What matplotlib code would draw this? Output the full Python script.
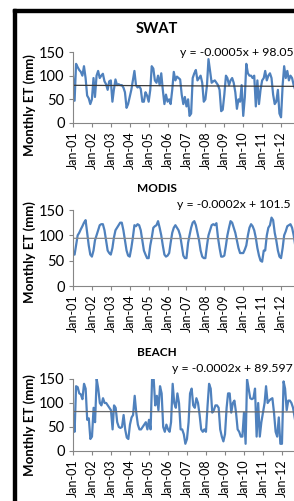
import numpy as np
import matplotlib.pyplot as plt
import matplotlib.dates as mdates
from matplotlib.patches import Rectangle

plt.rcParams['font.family'] = ['Lato', 'DejaVu Sans']

# monthly ET (mm), Jan 2001 - Dec 2012
swat = [100, 47, 125, 118, 112, 108, 100, 120, 95, 58, 52, 40,
        50, 95, 55, 100, 110, 95, 100, 104, 88, 82, 70, 88,
        90, 45, 70, 92, 80, 82, 80, 80, 75, 65, 32, 40,
        55, 70, 90, 110, 80, 75, 78, 72, 45, 45, 65, 58,
        45, 70, 120, 115, 90, 85, 100, 80, 105, 70, 40, 60,
        45, 50, 40, 70, 108, 90, 98, 95, 92, 60, 40, 55,
        35, 50, 15, 20, 95, 105, 112, 90, 95, 100, 85, 45,
        50, 80, 135, 110, 85, 88, 90, 85, 80, 70, 25, 28,
        60, 100, 95, 80, 90, 95, 85, 65, 30, 50, 45, 80,
        15, 55, 125, 105, 100, 100, 95, 100, 35, 90, 40, 70,
        90, 95, 110, 90, 100, 105, 95, 60, 40, 45, 70, 20,
        12, 80, 120, 95, 110, 90, 100, 95, 80, 70, 50, 45]
modis = [62, 62, 80, 100, 105, 112, 118, 125, 130, 105, 80, 62,
         58, 70, 90, 100, 110, 120, 122, 122, 110, 90, 70, 65,
         62, 75, 95, 110, 115, 120, 125, 125, 110, 90, 70, 60,
         58, 75, 95, 120, 118, 122, 120, 110, 90, 70, 62, 55,
         55, 80, 95, 115, 118, 120, 128, 115, 100, 80, 62, 58,
         60, 65, 85, 105, 115, 120, 115, 110, 100, 80, 60, 55,
         55, 85, 100, 115, 125, 128, 120, 105, 90, 70, 58, 55,
         55, 80, 100, 110, 120, 122, 120, 124, 95, 75, 58, 58,
         60, 80, 100, 115, 128, 125, 115, 105, 90, 75, 65, 65,
         65, 72, 80, 100, 115, 122, 118, 110, 95, 75, 60, 50,
         48, 70, 70, 100, 115, 120, 135, 130, 105, 90, 70, 58,
         55, 75, 100, 108, 118, 120, 122, 115, 100, 80, 65, 60]
beach = [75, 40, 135, 133, 120, 118, 108, 140, 130, 65, 68, 25,
         30, 90, 60, 150, 130, 100, 95, 110, 100, 100, 95, 90,
         85, 45, 95, 90, 60, 50, 48, 50, 75, 45, 28, 25,
         55, 70, 75, 115, 80, 55, 45, 45, 50, 55, 60, 45,
         65, 45, 150, 150, 95, 115, 85, 135, 120, 50, 40, 55,
         45, 40, 60, 140, 100, 90, 120, 100, 45, 45, 35, 15,
         25, 60, 120, 130, 95, 90, 110, 100, 75, 45, 40, 45,
         40, 95, 140, 130, 80, 85, 95, 95, 90, 45, 30, 20,
         35, 90, 120, 120, 80, 100, 105, 80, 45, 40, 30, 30,
         80, 15, 150, 130, 110, 108, 110, 130, 30, 100, 30, 60,
         80, 100, 135, 100, 105, 108, 110, 80, 40, 30, 70, 15,
         15, 145, 130, 85, 105, 105, 100, 90, 70, 50, 40, 30]

titles = ['SWAT', 'MODIS', 'BEACH']
slopes = [-0.0005, -0.0002, -0.0002]
intercepts = [98.05, 101.5, 89.597]
equations = ['y = -0.0005x + 98.05', 'y = -0.0002x + 101.5', 'y = -0.0002x + 89.597']

dates = np.arange('2001-01', '2013-01', dtype='datetime64[M]').astype('datetime64[D]')
serial = (dates - np.datetime64('1899-12-30')).astype(int)   # excel date numbers
years = np.arange('2001', '2013', dtype='datetime64[Y]').astype('datetime64[D]')

W, H = 294, 501
fig = plt.figure(figsize=(W / 100, H / 100), dpi=100)

def rect(l, t, r, b):
    return [l / W, 1 - b / H, (r - l) / W, (b - t) / H]

# axes boxes in pixels: left, top, right, bottom
boxes = [(73, 52, 300, 123), (73, 210, 300, 286), (73, 379, 301, 451)]
title_y = [29, 189, 353]
title_size = [10.5, 8.5, 8.5]
eq_pos = [(180, 52), (177, 204), (172, 369)]
ylab_y = [105, 252, 425]
trend_col = ['#3a3a3a', '#8c8c8c', '#6a6a6a']

for i, vals in enumerate([swat, modis, beach]):
    ax = fig.add_axes(rect(*boxes[i]))
    ax.plot(dates, vals, color='#4F81BD', lw=1.6)
    ax.plot(dates, slopes[i] * serial + intercepts[i], color=trend_col[i], lw=0.9)
    ax.set_ylim(0, 150)
    ax.set_yticks([0, 50, 100, 150])
    ax.set_xlim(np.datetime64('2001-01-01'), np.datetime64('2013-01-01'))
    ax.set_xticks(years)
    ax.xaxis.set_major_formatter(mdates.DateFormatter('%b-%y'))
    ax.tick_params(axis='x', rotation=90, labelsize=9, length=3, width=0.8,
                   color='#868686', pad=3)
    ax.tick_params(axis='y', labelsize=10.5, length=3, width=0.8,
                   color='#868686', pad=3)
    for s in ['top', 'right']:
        ax.spines[s].set_visible(False)
    for s in ['left', 'bottom']:
        ax.spines[s].set_color('#868686')
        ax.spines[s].set_linewidth(0.8)
    ax.patch.set_alpha(0)
    fig.text(157 / W, 1 - title_y[i] / H, titles[i], ha='center', va='center',
             fontsize=title_size[i], fontweight='bold')
    fig.text(eq_pos[i][0] / W, 1 - eq_pos[i][1] / H, equations[i], ha='left',
             va='center', fontsize=8.8)
    fig.text(30 / W, 1 - ylab_y[i] / H, 'Monthly ET (mm)', rotation=90,
             ha='center', va='center', fontsize=9.5, fontweight='bold')

# black frame of the cropped page
fig.patches.append(Rectangle((13 / W, 0), 3 / W, 1 - 9 / H, transform=fig.transFigure,
                             color='black', zorder=0))
fig.patches.append(Rectangle((13 / W, 1 - 12 / H), 1, 3 / H, transform=fig.transFigure,
                             color='black', zorder=0))

fig.savefig('out.png', dpi=100)
